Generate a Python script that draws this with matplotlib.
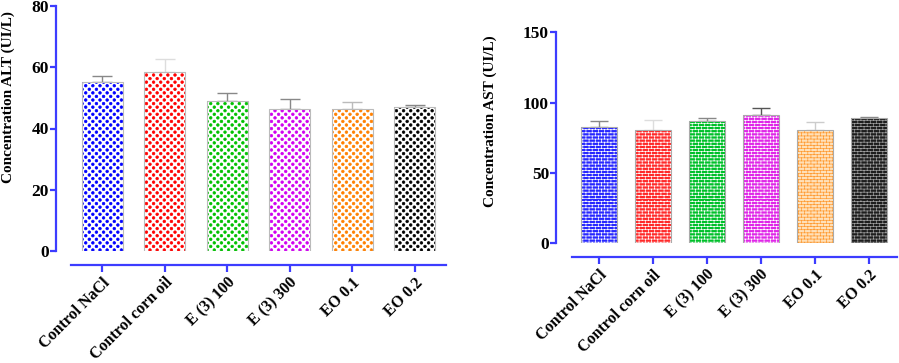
import warnings
warnings.filterwarnings("ignore")
import numpy as np
import matplotlib
matplotlib.use("Agg")
import matplotlib.pyplot as plt
from matplotlib import hatch as mhatch
from matplotlib.path import Path

# ---------------- data ----------------
groups = ["Control NaCl", "Control corn oil", "E (3) 100", "E (3) 300", "EO 0.1", "EO 0.2"]
alt_mean = [55.3, 58.3, 48.9, 46.4, 46.3, 47.1]
alt_err = [1.9, 4.4, 2.7, 3.2, 2.5, 0.5]
ast_mean = [82.5, 80.8, 87.2, 91.2, 80.8, 89.3]
ast_err = [4.7, 6.9, 2.1, 4.8, 5.2, 0.2]
alt_ticks = [0, 20, 40, 60, 80]
ast_ticks = [0, 50, 100, 150]

# ---------------- custom hatches ----------------
mhatch._validate_hatch_pattern = lambda h: None


class BrickHatch(mhatch.HatchPatternBase):
    def __init__(self, hatch, density):
        self.rows = 32 if "b" in hatch else 0
        self.cols = 16
        self.num_vertices = (self.rows * 2 + self.rows * self.cols * 2) if self.rows else 0

    def set_vertices_and_codes(self, vertices, codes):
        k = 0
        for i in range(self.rows):
            y = (i + 0.5) / self.rows
            vertices[k] = (0, y)
            vertices[k + 1] = (1, y)
            codes[k] = Path.MOVETO
            codes[k + 1] = Path.LINETO
            k += 2
        for i in range(self.rows):
            y0 = (i + 0.5) / self.rows
            y1 = (i + 1.5) / self.rows
            off = 0.5 / self.cols if i % 2 else 0.0
            for j in range(self.cols):
                x = (j + 0.25) / self.cols + off
                vertices[k] = (x, y0)
                vertices[k + 1] = (x, y1)
                codes[k] = Path.MOVETO
                codes[k + 1] = Path.LINETO
                k += 2


class DiamondDots(mhatch.HatchPatternBase):
    R = 28
    C = 14
    radius = 0.013

    def __init__(self, hatch, density):
        self.on = "d" in hatch
        circ = Path.unit_circle()
        self.sv = circ.vertices
        self.sc = circ.codes
        n = 0
        if self.on:
            for r in range(self.R + 1):
                n += (self.C + 1) if r % 2 == 0 else self.C
        self.num_vertices = n * len(self.sv)

    def set_vertices_and_codes(self, vertices, codes):
        k = 0
        L = len(self.sv)
        for r in range(self.R + 1):
            y = r / self.R
            if r % 2 == 0:
                xs = [c / self.C for c in range(self.C + 1)]
            else:
                xs = [(c + 0.5) / self.C for c in range(self.C)]
            for xx in xs:
                vertices[k:k + L] = self.sv * self.radius + [xx, y]
                codes[k:k + L] = self.sc
                k += L


mhatch._hatch_types.append(BrickHatch)
mhatch._hatch_types.append(DiamondDots)

plt.rcParams["font.family"] = ["Liberation Serif", "DejaVu Serif"]
plt.rcParams["font.weight"] = "bold"
plt.rcParams["hatch.linewidth"] = 0.5

spine_color = "#3c3cff"

alt_colors = ["#0000ff", "#ff0000", "#00c000", "#d000f0", "#ff8000", "#000000"]
alt_err_colors = ["#888888", "#dddddd", "#888888", "#888888", "#bbbbbb", "#888888"]
ast_face = ["#2828ff", "#ff2a2a", "#00c02a", "#e028e8", "#ffe0b8", "#1e1e1e"]
ast_hatch = ["#ffffff", "#ffffff", "#ffffff", "#ffffff", "#ff9a30", "#a0a0a0"]
ast_err_colors = ["#888888", "#dddddd", "#888888", "#555555", "#cccccc", "#888888"]

fig = plt.figure(figsize=(8.99, 3.63), dpi=100)

ax1 = fig.add_axes([56 / 899, 1 - 251 / 363, 390 / 899, 245 / 363])
ax2 = fig.add_axes([556 / 899, 1 - 243.3 / 363, 340.7 / 899, 211 / 363])


def style_axis(ax, xlim, ylim, yticks, ylabel, lab_xy):
    ax.set_xlim(*xlim)
    ax.set_ylim(*ylim)
    for s in ["top", "right"]:
        ax.spines[s].set_visible(False)
    for s in ["left", "bottom"]:
        ax.spines[s].set_color(spine_color)
        ax.spines[s].set_linewidth(1.6)
    ax.spines["bottom"].set_position(("outward", 10))
    ax.spines["bottom"].set_bounds(-0.5, xlim[1])
    ax.spines["left"].set_bounds(ylim[0], ylim[1])
    ax.set_yticks(yticks)
    ax.set_xticks(range(len(groups)))
    ax.set_xticklabels(groups, rotation=45, ha="right", rotation_mode="anchor",
                       fontsize=11.5, fontweight="bold")
    ax.tick_params(axis="y", colors=spine_color, labelcolor="black", length=4,
                   width=1.6, labelsize=12.5, pad=1)
    ax.tick_params(axis="x", colors=spine_color, labelcolor="black", length=5,
                   width=1.6, pad=2)
    for lab in ax.get_yticklabels():
        lab.set_fontweight("bold")
    ax.set_ylabel(ylabel, fontsize=11, fontweight="bold")
    ax.yaxis.set_label_coords(*lab_xy)


x = np.arange(len(groups))

# ALT chart
for i in range(len(groups)):
    ax1.errorbar(x[i], alt_mean[i], yerr=[[0], [alt_err[i]]], fmt="none",
                 ecolor=alt_err_colors[i], elinewidth=1, capsize=7.5, capthick=1, zorder=1)
ax1.bar(x, alt_mean, width=0.66, facecolor="white", edgecolor=alt_colors,
        linewidth=0, hatch="dd", zorder=2)
ax1.bar(x, alt_mean, width=0.66, fill=False, edgecolor="#bbbbbb", linewidth=0.8, zorder=3)
style_axis(ax1, (-0.74, 5.5), (0, 80), alt_ticks, "Concentration ALT (UI/L)", (-0.105, 0.627))

# AST chart
for i in range(len(groups)):
    ax2.errorbar(x[i], ast_mean[i], yerr=[[0], [ast_err[i]]], fmt="none",
                 ecolor=ast_err_colors[i], elinewidth=1, capsize=6.5, capthick=1, zorder=1)
ax2.bar(x, ast_mean, width=0.67, facecolor=ast_face, edgecolor=ast_hatch,
        linewidth=0, hatch="b", zorder=2)
ax2.bar(x, ast_mean, width=0.67, fill=False, edgecolor="#aaaaaa", linewidth=0.8, zorder=3)
style_axis(ax2, (-0.79, 5.52), (0, 150), ast_ticks, "Concentration AST (UI/L)", (-0.173, 0.58))

fig.savefig("out.png", dpi=100)
